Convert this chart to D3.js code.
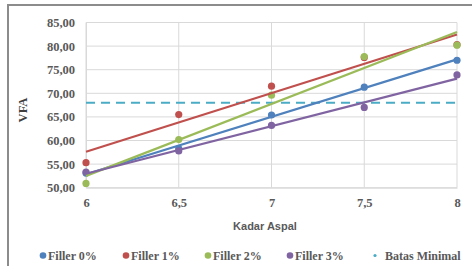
<!DOCTYPE html>
<html><head><meta charset="utf-8">
<script src="https://cdn.jsdelivr.net/npm/d3@7"></script>
<style>body{margin:0;background:#fff}svg{display:block}</style>
</head><body>
<script>
const xValues = [6, 6.5, 7, 7.5, 8];
const xTickLabels = ["6", "6,5", "7", "7,5", "8"];
const yTicks = [50, 55, 60, 65, 70, 75, 80, 85];
const seriesNames = ["Filler 0%", "Filler 1%", "Filler 2%", "Filler 3%"];
const filler0 = [53.1, 58.3, 65.4, 71.3, 77.0];
const filler1 = [55.3, 65.5, 71.5, 77.6, 80.3];
const filler2 = [50.9, 60.2, 69.6, 77.8, 80.2];
const filler3 = [53.3, 57.8, 63.2, 67.0, 73.9];
const batasMinimal = 68;
const colors = ["#4F81BD", "#C0504D", "#9BBB59", "#8064A2"];
const batasColor = "#4BACC6";

const W = 472, H = 266;
const svg = d3.select("body").append("svg").attr("width", W).attr("height", H);

// frame
svg.append("rect").attr("x", 8).attr("y", 5).attr("width", 480).attr("height", 280)
  .attr("fill", "none").attr("stroke", "#8c8c8c").attr("stroke-width", 2);

const x = d3.scaleLinear().domain([6, 8]).range([86, 457]);
const y = d3.scaleLinear().domain([50, 85]).range([187.7, 22.5]);

const g = svg.append("g");
g.selectAll(".hg").data(yTicks).join("line")
  .attr("x1", x(6)).attr("x2", x(8)).attr("y1", d => y(d)).attr("y2", d => y(d))
  .attr("stroke", "#d9d9d9").attr("stroke-width", 1);
g.selectAll(".vg").data(xValues).join("line")
  .attr("x1", d => x(d)).attr("x2", d => x(d)).attr("y1", y(85)).attr("y2", y(50))
  .attr("stroke", "#d9d9d9").attr("stroke-width", 1);

const yAxis = d3.axisLeft(y).tickValues(yTicks).tickSize(0).tickPadding(11)
  .tickFormat(d => d3.format(".2f")(d).replace(".", ","));
const ya = svg.append("g").attr("transform", `translate(${x(6)},0)`).call(yAxis);
ya.select(".domain").attr("stroke", "#d9d9d9");
ya.selectAll("text").attr("font-family", "Liberation Serif").attr("font-weight", "bold")
  .attr("font-size", 12.5).attr("fill", "#595959");

const xAxis = d3.axisBottom(x).tickValues(xValues).tickSize(0).tickPadding(10)
  .tickFormat((d, i) => xTickLabels[i]);
const xa = svg.append("g").attr("transform", `translate(0,${y(50)})`).call(xAxis);
xa.select(".domain").attr("stroke", "#d9d9d9");
xa.selectAll("text").attr("font-family", "Liberation Serif").attr("font-weight", "bold")
  .attr("font-size", 12.5).attr("fill", "#595959");

svg.append("text").attr("x", 265).attr("y", 230).attr("text-anchor", "middle")
  .attr("font-family", "Liberation Sans").attr("font-weight", "bold").attr("font-size", 11)
  .attr("fill", "#595959").text("Kadar Aspal");
svg.append("text").attr("transform", "translate(27,110) rotate(-90)").attr("text-anchor", "middle")
  .attr("font-family", "Liberation Serif").attr("font-weight", "bold").attr("font-size", 12.5)
  .attr("fill", "#404040").text("VFA");

svg.append("line").attr("x1", x(6)).attr("x2", x(8)).attr("y1", y(batasMinimal)).attr("y2", y(batasMinimal))
  .attr("stroke", batasColor).attr("stroke-width", 2.2).attr("stroke-dasharray", "9,6");

const all = [filler0, filler1, filler2, filler3];
function fit(vals) {
  const mx = d3.mean(xValues), my = d3.mean(vals);
  let num = 0, den = 0;
  xValues.forEach((xv, i) => { num += (xv - mx) * (vals[i] - my); den += (xv - mx) ** 2; });
  const b = num / den, a = my - b * mx;
  return [[6, a + b * 6], [8, a + b * 8]];
}
all.forEach((vals, si) => {
  svg.append("g").selectAll("circle").data(vals).join("circle")
    .attr("cx", (d, i) => x(xValues[i])).attr("cy", d => y(d)).attr("r", 3.6)
    .attr("fill", colors[si]);
});
all.forEach((vals, si) => {
  const pts = fit(vals);
  svg.append("line").attr("x1", x(pts[0][0])).attr("y1", y(pts[0][1]))
    .attr("x2", x(pts[1][0])).attr("y2", y(pts[1][1]))
    .attr("stroke", colors[si]).attr("stroke-width", 2.2);
});

const legendItems = seriesNames.map((n, i) => ({ name: n, color: colors[i], r: 3.3, cx: [43, 126, 208, 290][i] }));
legendItems.push({ name: "Batas Minimal", color: batasColor, r: 1.6, cx: 375 });
const lg = svg.append("g");
legendItems.forEach(it => {
  lg.append("circle").attr("cx", it.cx).attr("cy", 255.5).attr("r", it.r).attr("fill", it.color);
  lg.append("text").attr("x", it.cx + (it.r > 2 ? 5 : 10)).attr("y", 260)
    .attr("font-family", "Liberation Serif").attr("font-weight", "bold").attr("font-size", 12)
    .attr("fill", "#595959").text(it.name);
});
</script>
</body></html>
